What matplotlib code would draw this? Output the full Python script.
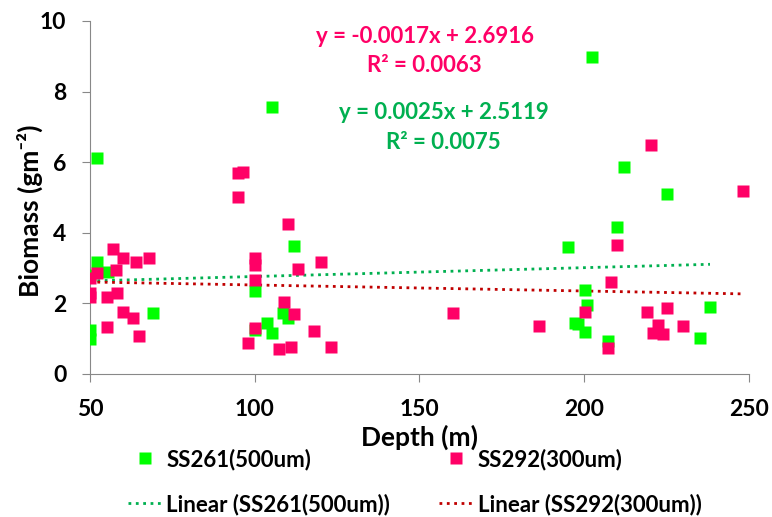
import numpy as np
import matplotlib.pyplot as plt

plt.rcParams['font.family'] = ['Lato', 'DejaVu Sans']
plt.rcParams['font.weight'] = 'bold'

# SS261 (500um) - green squares
depth_261 = [52, 52, 50, 50, 50, 55.6, 69,
             105.1, 112, 100.1, 103.8, 105.1, 108.7, 110.2, 100.1,
             202.3, 212.2, 225.2, 210, 195.2, 200.2, 201, 197.2, 198.2, 200.2, 207.1, 238.2, 235.1]
biomass_261 = [6.11, 3.18, 1.25, 1.0, 2.8, 2.9, 1.74,
               7.55, 3.63, 2.35, 1.45, 1.17, 1.74, 1.58, 1.26,
               8.97, 5.86, 5.09, 4.16, 3.61, 2.38, 1.95, 1.45, 1.42, 1.18, 0.94, 1.91, 1.03]

# SS292 (300um) - pink squares
depth_292 = [50, 50, 50, 52, 57.1, 57.9, 55.1, 58.1, 60.1, 64, 68, 60.1, 63, 55.1, 65,
             95, 96.3, 95, 110, 100.1, 100.1, 100.1, 113, 120, 109, 112, 100, 98, 107.4, 111, 118, 123.1,
             160.3,
             220.2, 248.3, 210, 208.1, 200.2, 186.3, 207.1, 219.1, 225.2, 222.3, 221, 224, 230]
biomass_292 = [2.72, 2.29, 2.17, 2.85, 3.53, 2.95, 2.17, 2.29, 3.30, 3.16, 3.30, 1.75, 1.60, 1.32, 1.08,
               5.68, 5.71, 5.02, 4.26, 3.28, 3.09, 2.66, 2.97, 3.18, 2.05, 1.69, 1.29, 0.87, 0.71, 0.77, 1.22, 0.76,
               1.74,
               6.49, 5.19, 3.65, 2.60, 1.76, 1.36, 0.75, 1.76, 1.86, 1.39, 1.15, 1.12, 1.36]

# trendline coefficients (slope, intercept) as labelled
fit_261 = (0.0025, 2.5119)
fit_292 = (-0.0017, 2.6916)
r2_261 = 0.0075
r2_292 = 0.0063

green = '#00FF00'
pink = '#FF0066'
green_txt = '#00B050'
red_line = '#C00000'
fs = 16

fig = plt.figure(figsize=(7.72, 5.17), dpi=100)
ax = fig.add_axes([0.1166, 0.2766, 0.8534, 0.6828])

ax.plot(depth_261, biomass_261, 's', color=green, ms=9, mec='none', label='SS261(500um)', zorder=3)
ax.plot(depth_292, biomass_292, 's', color=pink, ms=9, mec='none', label='SS292(300um)', zorder=3)

xg = np.array([min(depth_261), max(depth_261)])
xr = np.array([min(depth_292), max(depth_292)])
ax.plot(xg, fit_261[0] * xg + fit_261[1], ':', color=green_txt, lw=2, label='Linear (SS261(500um))', zorder=2)
ax.plot(xr, fit_292[0] * xr + fit_292[1], ':', color=red_line, lw=2, label='Linear (SS292(300um))', zorder=2)

ax.set_xlim(50, 250)
ax.set_ylim(0, 10)
ax.set_xticks([50, 100, 150, 200, 250])
ax.set_yticks([0, 2, 4, 6, 8, 10])
for s in ['top', 'right']:
    ax.spines[s].set_visible(False)
for s in ['left', 'bottom']:
    ax.spines[s].set_color('#888888')
ax.tick_params(direction='out', length=6, color='#888888', labelsize=16.5)
ax.tick_params(axis='x', pad=12)
ax.tick_params(axis='y', pad=11)
ax.set_xlabel('Depth (m)', fontsize=19, fontweight='bold', labelpad=3)
ax.set_ylabel('Biomass (gm⁻²)', fontsize=19, fontweight='bold')
ax.yaxis.set_label_coords(-0.072, 0.462)

ax.text(0.508, 0.955, f'y = {fit_292[0]:.4f}x + {fit_292[1]:.4f}', transform=ax.transAxes,
        color=pink, fontsize=fs, fontweight='bold', ha='center', va='center')
ax.text(0.508, 0.875, f'R² = {r2_292:.4f}', transform=ax.transAxes,
        color=pink, fontsize=fs, fontweight='bold', ha='center', va='center')
ax.text(0.537, 0.742, f'y = {fit_261[0]:.4f}x + {fit_261[1]:.4f}', transform=ax.transAxes,
        color=green_txt, fontsize=fs, fontweight='bold', ha='center', va='center')
ax.text(0.537, 0.657, f'R² = {r2_261:.4f}', transform=ax.transAxes,
        color=green_txt, fontsize=fs, fontweight='bold', ha='center', va='center')

h, l = ax.get_legend_handles_labels()
order = [0, 2, 1, 3]
fig.legend([h[i] for i in order], [l[i] for i in order], ncol=2, loc='upper left',
           bbox_to_anchor=(0.1658, 0.133), frameon=False, fontsize=fs, columnspacing=2.2,
           handlelength=1.55, handletextpad=0.18, labelspacing=1.05, borderpad=0,
           borderaxespad=0)

fig.savefig('out.png', dpi=100)
